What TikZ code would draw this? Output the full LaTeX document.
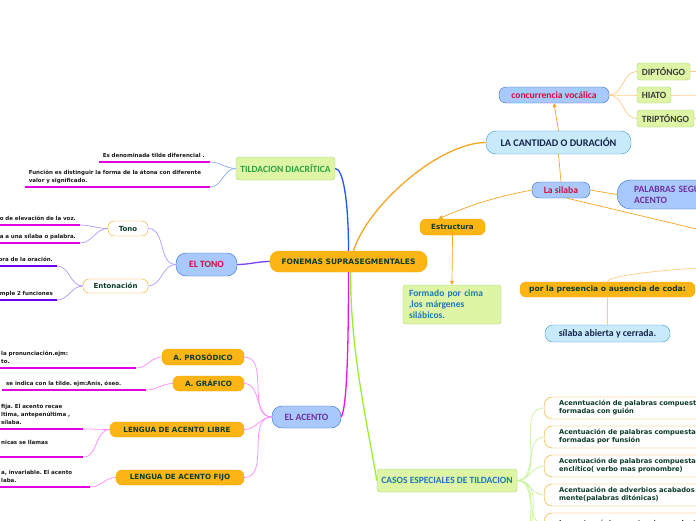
\documentclass[tikz,border=0pt]{standalone}
\usepackage{fontspec}
\usepackage{xcolor}
\usepackage{tikz}
\usetikzlibrary{positioning,arrows.meta}

\newfontfamily\verdana{DejaVu Sans}
\newfontfamily\calibri{Carlito}

\definecolor{orangefill}{HTML}{FDB515}
\definecolor{orangeedge}{HTML}{F4A60C}
\definecolor{darkink}{HTML}{0D3B2E}
\definecolor{leafink}{HTML}{1A1A1A}
\definecolor{bluefill}{HTML}{A9C8FB}
\definecolor{blueedge}{HTML}{2A6EE0}
\definecolor{crimson}{HTML}{D0103A}
\definecolor{plum}{HTML}{7030A0}
\definecolor{skyfill}{HTML}{C8EAFB}
\definecolor{skyedge}{HTML}{3A9AD9}
\definecolor{navyink}{HTML}{16244A}
\definecolor{limefill}{HTML}{DDF5A5}
\definecolor{limeedge}{HTML}{ADD576}
\definecolor{greenink}{HTML}{2EA043}
\definecolor{tealink}{HTML}{1F78B4}
\definecolor{grayink}{HTML}{3B3B3B}
\definecolor{linkblue}{HTML}{2255FF}
\definecolor{linkviolet}{HTML}{7744EE}
\definecolor{linkorange}{HTML}{F5A623}
\definecolor{linkmagenta}{HTML}{EE11EE}
\definecolor{linklime}{HTML}{99EE33}
\definecolor{softblue}{HTML}{88AAFF}
\definecolor{softviolet}{HTML}{B399FF}
\definecolor{softpink}{HTML}{FF88FF}
\definecolor{softlime}{HTML}{C5F59A}
\definecolor{softorange}{HTML}{FFCC88}
\definecolor{ulmagenta}{HTML}{E000E0}
\definecolor{ulviolet}{HTML}{6600EE}

\begin{document}
\frenchspacing
\begin{tikzpicture}[
    x=1pt, y=-1pt,
    >={Triangle[length=4pt,width=4pt]},
    every node/.style={align=center, inner sep=0pt},
    rootbox/.style={draw=orangeedge, fill=orangefill, rounded corners=9pt, text=darkink,
        font=\verdana\bfseries\fontsize{7.5}{9}\selectfont},
    orangebox/.style={draw=orangeedge, fill=orangefill, rounded corners=6pt, text=darkink,
        font=\verdana\bfseries\fontsize{7.2}{9}\selectfont},
    whitebox/.style={draw=orangeedge, fill=white, rounded corners=6pt, text=darkink,
        font=\verdana\bfseries\fontsize{7}{9}\selectfont},
    bluebox/.style={draw=blueedge, fill=bluefill, rounded corners=7pt, text=crimson,
        font=\calibri\bfseries\fontsize{9.6}{11}\selectfont},
    skybox/.style={draw=skyedge, fill=skyfill, rounded corners=8pt, text=navyink,
        font=\calibri\bfseries\fontsize{9.8}{11}\selectfont},
    limebox/.style={draw=limeedge, fill=limefill, rounded corners=3pt, text=tealink,
        font=\calibri\bfseries\fontsize{9.5}{11}\selectfont},
    casebox/.style={draw=orangeedge, fill=white, rounded corners=8pt, text=darkink,
        anchor=west, minimum width=200, minimum height=22, text width=170,
        inner xsep=15pt, align=left, font=\verdana\bfseries\fontsize{6.7}{8}\selectfont},
    leaf/.style={text=leafink, inner xsep=4pt, inner ysep=3.8pt, text depth=1pt,
        font=\verdana\bfseries\fontsize{5.5}{8}\selectfont},
    pinkline/.style={draw=ulmagenta, line width=1.5pt},
    violetline/.style={draw=ulviolet, line width=1.5pt},
    mainlink/.style={line width=1.3pt},
    sublink/.style={line width=0.7pt}
]

\useasboundingbox (0,0) rectangle (696,520);
\fill[white] (0,0) rectangle (696,520);
\clip (0,0) rectangle (696,520);

% Central topic
\node[rootbox, minimum width=157, minimum height=21] (fonemas) at (348.5,261.5) {FONEMAS SUPRASEGMENTALES};

% Tildacion diacritica
\node[limebox, text=greenink, minimum width=99, minimum height=23] (tildacion) at (285.5,168.5) {TILDACION DIACRÍTICA};
\node[leaf, anchor=south east, text width=103, align=left] (diacr1) at (210,162) {Es denominada tilde diferencial .};
\node[leaf, anchor=south east, text width=177, align=left, text depth=9pt] (diacr2) at (210,187) {Función es distinguir la forma de la átona  con diferente\\valor y significado.};

% El tono
\node[bluebox, rounded corners=10pt, minimum width=61, minimum height=23] (eltono) at (206.5,264.5) {EL TONO};
\node[whitebox, minimum width=40, minimum height=15] (tono) at (128,228.5) {Tono};
\node[whitebox, minimum width=65, minimum height=14] (entonacion) at (115.5,286) {Entonación};
\node[leaf, anchor=south east, text width=150, align=right] (tono1) at (80,225) {grado de elevación de la voz.};
\node[leaf, anchor=south east, text width=150, align=right] (tono2) at (80,243) {afecta a una sílaba o palabra.};
\node[leaf, anchor=south east, text width=150, align=right] (enton1) at (57,266) {sonora de la oración.};
\node[leaf, anchor=south east, text width=150, align=right] (enton2) at (57,300) {cumple 2 funciones};

% El acento
\node[bluebox, text=plum, rounded corners=10pt, minimum width=69, minimum height=22] (elacento) at (306.5,417) {EL ACENTO};
\node[orangebox, minimum width=82, minimum height=16] (prosodico) at (203,357) {A. PROSÓDICO};
\node[orangebox, minimum width=71, minimum height=15] (grafico) at (208.5,383.5) {A. GRÁFICO};
\node[orangebox, minimum width=134, minimum height=15] (libre) at (177,429.5) {LENGUA DE ACENTO LIBRE};
\node[orangebox, minimum width=128, minimum height=15] (fijo) at (180,477.5) {LENGUA DE ACENTO FIJO};
\node[leaf, anchor=south west, text width=131, align=left, text depth=9pt] (prosod1) at (-3,368) {la pronunciación.ejm:\\to.};
\node[leaf, anchor=south west, text width=136, align=left] (graf1) at (2,390) {se indica con la tilde. ejm:Anís, óseo.};
\node[leaf, anchor=south west, text width=78, align=left, text depth=17pt] (libre1) at (-3,429) {fija. El acento recae\\ltima, antepenúltima ,\\sílaba.};
\node[leaf, anchor=south west, text width=78, align=left, text depth=9pt] (libre2) at (-3,457) {nicas se llamas};
\node[leaf, anchor=south west, text width=85, align=left, text depth=9pt] (fijo1) at (-3,487) {a, invariable. El acento\\laba.};

% La cantidad o duracion
\node[skybox, font=\calibri\bfseries\fontsize{10.2}{11}\selectfont, rounded corners=10pt, minimum width=145, minimum height=23] (cantidad) at (558.5,142.5) {LA CANTIDAD O DURACIÓN};
\node[bluebox, minimum width=110, minimum height=16] (concurrencia) at (554,95) {concurrencia vocálica};
\node[limebox, text=grayink, minimum width=53, minimum height=17] (diptongo) at (663.5,71.5) {DIPTÓNGO};
\node[limebox, text=grayink, minimum width=34, minimum height=16] (hiato) at (654,95) {HIATO};
\node[limebox, text=grayink, minimum width=57, minimum height=17] (triptongo) at (665.5,118.5) {TRIPTÓNGO};
\node[bluebox, minimum width=58, minimum height=16] (silaba) at (561,190) {La silaba};
\node[bluebox, text=plum, rounded corners=13pt, anchor=west, minimum width=170, minimum height=29,
    text width=136, inner xsep=17pt, align=left] (palabras) at (617,194.5) {PALABRAS SEGUN SU\\ACENTO};
\node[orangebox, minimum width=65, minimum height=16] (estructura) at (452.5,227) {Estructura};
\node[limebox, minimum width=98, minimum height=39, text width=86, inner xsep=6pt, align=left] (formado) at (452,304.5) {Formado por cima\\,los márgenes\\silábicos.};
\node[orangebox, font=\verdana\bfseries\fontsize{7.6}{9}\selectfont, minimum width=175, minimum height=15] (coda) at (607.5,289.5) {por la presencia o ausencia de coda:};
\node[skybox, minimum width=125, minimum height=17] (abierta) at (607.5,333.5) {sílaba abierta y cerrada.};

% Casos especiales
\node[limebox, minimum width=140, minimum height=23] (casos) at (447,480.5) {CASOS ESPECIALES DE TILDACION};
\node[casebox] (caso1) at (544,408) {Acenntuación de palabras compuestas\\formadas con guión};
\node[casebox] (caso2) at (544,437) {Acentuación de palabras compuestas\\formadas por funsión};
\node[casebox] (caso3) at (544,466) {Acentuación de palabras compuestas\\enclítico( verbo mas pronombre)};
\node[casebox] (caso4) at (544,495) {Acentuación de adverbios acabados en\\mente(palabras ditónicas)};
\node[casebox] (caso5) at (544,524) {Los antropónimos extranjeros adaptados\\};

% Ends that leave the page
\coordinate (diptongo-out) at (760,71.5);
\coordinate (hiato-out) at (760,95);
\coordinate (triptongo-out) at (760,118.5);
\coordinate (silaba-out) at (760,244);
\coordinate (coda-in) at (760,266);
\coordinate (caso6) at (544,553);
\coordinate (caso7) at (544,582);

% Links from the central topic
\draw[mainlink, linkblue] (fonemas.north) .. controls +(0,-50) and +(8,0) .. (tildacion.east);
\draw[mainlink, linkorange] ([xshift=5pt]fonemas.north) .. controls +(14.5,-46) and +(-46,0) .. (cantidad.west);
\draw[mainlink, linkviolet] (fonemas.west) to[out=180,in=0] (eltono.east);
\draw[mainlink, linkmagenta] (fonemas.south) .. controls +(0,70) and +(6,-10) .. (elacento.east);
\draw[mainlink, linklime] ([xshift=2pt]fonemas.south) .. controls +(0,80) and +(-10,-60) .. (casos.west);

% Tildacion leaves
\draw[pinkline] (diacr1.south west) -- (diacr1.south east);
\draw[pinkline] (diacr2.south west) -- (diacr2.south east);
\draw[sublink, softblue] (diacr1.south east) to[out=0,in=180] (tildacion.west);
\draw[sublink, softblue] (diacr2.south east) to[out=0,in=180] (tildacion.west);

% Tono leaves
\draw[sublink, softviolet] (eltono.west) to[out=180,in=0] (tono.east);
\draw[sublink, softviolet] (eltono.west) to[out=180,in=0] (entonacion.east);
\draw[pinkline] (tono1.south west) -- (tono1.south east);
\draw[pinkline] (tono2.south west) -- (tono2.south east);
\draw[violetline] (enton1.south west) -- (enton1.south east);
\draw[violetline] (enton2.south west) -- (enton2.south east);
\draw[sublink, softviolet] (tono1.south east) to[out=0,in=180] (tono.west);
\draw[sublink, softviolet] (tono2.south east) to[out=0,in=180] (tono.west);
\draw[sublink, softviolet] (enton1.south east) to[out=0,in=180] (entonacion.west);
\draw[sublink, softviolet] (enton2.south east) to[out=0,in=180] (entonacion.west);

% Acento leaves
\foreach \kid in {prosodico, grafico, libre, fijo}
    \draw[sublink, softpink] (elacento.west) to[out=180,in=0] (\kid.east);
\draw[pinkline] (prosod1.south west) -- (prosod1.south east);
\draw[pinkline] (graf1.south west) -- (graf1.south east);
\draw[pinkline] (libre1.south west) -- (libre1.south east);
\draw[pinkline] (libre2.south west) -- (libre2.south east);
\draw[pinkline] (fijo1.south west) -- (fijo1.south east);
\draw[sublink, softpink] (prosod1.south east) to[out=0,in=180] (prosodico.west);
\draw[sublink, softpink] (graf1.south east) to[out=0,in=180] (grafico.west);
\draw[sublink, softpink] (libre1.south east) to[out=0,in=180] (libre.west);
\draw[sublink, softpink] (libre2.south east) to[out=0,in=180] (libre.west);
\draw[sublink, softpink] (fijo1.south east) to[out=0,in=180] (fijo.west);

% Cantidad branch
\draw[sublink, linkorange, ->] (cantidad.north) -- (concurrencia.south);
\draw[sublink, linkorange] (cantidad.south) -- (silaba.north);
\foreach \kid in {diptongo, hiato, triptongo} {
    \draw[sublink, softorange] (concurrencia.east) to[out=0,in=180] (\kid.west);
    \draw[sublink, softorange] (\kid.east) to[out=0,in=180] (\kid-out);
}
\draw[sublink, linkorange] (silaba.east) -- (palabras.west);
\draw[sublink, linkorange, ->] (silaba.west) to[bend right=6] ([xshift=-14pt]estructura.north);
\draw[sublink, linkorange, ->] (estructura.south) -- (formado.north);
\draw[sublink, linkorange] ([xshift=6pt]silaba.south) -- (silaba-out);
\draw[sublink, softorange] (coda.north) .. controls +(0,-8) and +(-60,0) .. (coda-in);
\draw[sublink, softorange] (coda.south) -- (abierta.north);

% Casos branch
\foreach \kid in {caso1, caso2, caso3, caso4, caso5}
    \draw[sublink, softlime] (casos.east) to[out=0,in=180] (\kid.west);
\draw[sublink, softlime] (casos.east) to[out=0,in=180] (caso6);
\draw[sublink, softlime] (casos.east) to[out=0,in=180] (caso7);

\end{tikzpicture}
\end{document}
